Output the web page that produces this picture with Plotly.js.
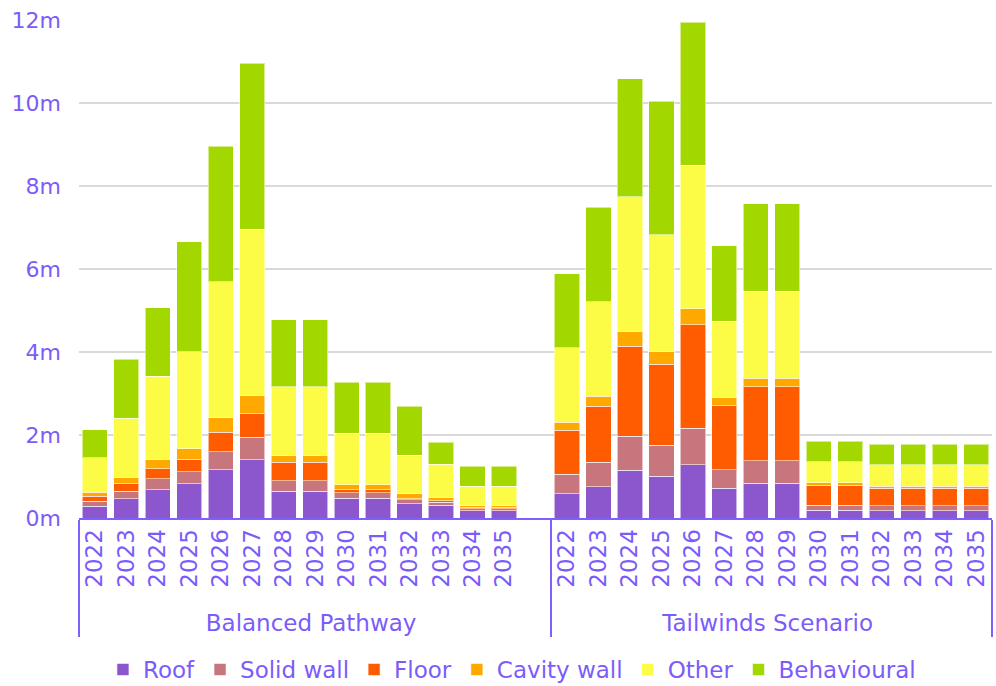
<!DOCTYPE html>
<html>
<head>
<meta charset="utf-8">
<script src="https://cdn.plot.ly/plotly-3.0.1.min.js"></script>
<style>
  html, body { margin: 0; padding: 0; background: #ffffff; }
  #chart { width: 996px; height: 686px; }
</style>
</head>
<body>
<div id="chart"></div>
<script>
// Scenario groups and years shown along the category axis
const scenarios = ['Balanced Pathway', 'Tailwinds Scenario'];
const years = ['2022', '2023', '2024', '2025', '2026', '2027', '2028',
               '2029', '2030', '2031', '2032', '2033', '2034', '2035'];

// Value axis ticks (millions)
const yTicks = [0, 2, 4, 6, 8, 10, 12];
const yTickLabels = ['0m', '2m', '4m', '6m', '8m', '10m', '12m'];

// Values in millions, Balanced Pathway
const roofBalanced     = [0.28, 0.46, 0.68, 0.82, 1.165, 1.40, 0.65, 0.65, 0.48, 0.48, 0.345, 0.305, 0.17, 0.17];
const solidBalanced    = [0.12, 0.18, 0.26, 0.30, 0.435, 0.54, 0.25, 0.25, 0.13, 0.13, 0.095, 0.08, 0.055, 0.055];
const floorBalanced    = [0.13, 0.19, 0.25, 0.30, 0.47, 0.57, 0.44, 0.44, 0.065, 0.065, 0.03, 0.035, 0.035, 0.035];
const cavityBalanced   = [0.09, 0.15, 0.22, 0.25, 0.35, 0.45, 0.17, 0.17, 0.125, 0.125, 0.12, 0.08, 0.04, 0.04];
const otherBalanced    = [0.83, 1.42, 2.00, 2.34, 3.27, 4.00, 1.65, 1.65, 1.24, 1.24, 0.92, 0.79, 0.47, 0.47];
const behaviourBalanced= [0.68, 1.42, 1.66, 2.65, 3.27, 4.00, 1.62, 1.62, 1.23, 1.23, 1.18, 0.53, 0.48, 0.48];

// Values in millions, Tailwinds Scenario
const roofTailwinds     = [0.59, 0.75, 1.15, 1.01, 1.28, 0.72, 0.84, 0.84, 0.19, 0.19, 0.17, 0.17, 0.17, 0.17];
const solidTailwinds    = [0.46, 0.59, 0.82, 0.74, 0.88, 0.445, 0.54, 0.54, 0.12, 0.12, 0.12, 0.12, 0.12, 0.12];
const floorTailwinds    = [1.07, 1.35, 2.17, 1.96, 2.50, 1.545, 1.78, 1.78, 0.475, 0.475, 0.425, 0.425, 0.425, 0.425];
const cavityTailwinds   = [0.185, 0.24, 0.36, 0.31, 0.38, 0.20, 0.21, 0.21, 0.065, 0.065, 0.055, 0.055, 0.055, 0.055];
const otherTailwinds    = [1.795, 2.275, 3.24, 2.81, 3.465, 1.83, 2.09, 2.09, 0.505, 0.505, 0.51, 0.51, 0.51, 0.51];
const behaviourTailwinds= [1.78, 2.28, 2.85, 3.21, 3.445, 1.82, 2.11, 2.11, 0.50, 0.50, 0.50, 0.50, 0.50, 0.50];

const measures = ['Roof', 'Solid wall', 'Floor', 'Cavity wall', 'Other', 'Behavioural'];
const colours  = ['#8C57CD', '#C8767E', '#FF5B00', '#FFA800', '#FCFC46', '#A2D800'];

const balancedSeries  = [roofBalanced, solidBalanced, floorBalanced, cavityBalanced, otherBalanced, behaviourBalanced];
const tailwindsSeries = [roofTailwinds, solidTailwinds, floorTailwinds, cavityTailwinds, otherTailwinds, behaviourTailwinds];

// A blank slot closes the first group so the two scenarios sit apart
const blank = '\u00a0';
const outerLabels = [].concat(years.map(() => scenarios[0]), [scenarios[0]], years.map(() => scenarios[1]));
const innerLabels = [].concat(years, [blank], years);

const textColour = '#7B5CFA';
const lineColour = '#7F5FFF';
const font = '"DejaVu Sans", Verdana, sans-serif';

const traces = measures.map((name, i) => ({
  type: 'bar',
  name: name,
  x: [outerLabels, innerLabels],
  y: [].concat(balancedSeries[i], [null], tailwindsSeries[i]),
  marker: { color: colours[i], line: { color: 'rgba(255,255,255,0.55)', width: 1 } },
  hoverinfo: 'skip'
}));

const layout = {
  width: 996,
  height: 686,
  barmode: 'stack',
  bargap: 0.2,
  paper_bgcolor: '#ffffff',
  plot_bgcolor: '#ffffff',
  margin: { l: 79, r: 4, t: 20, b: 168 },
  font: { family: font, color: textColour, size: 23 },
  xaxis: {
    type: 'multicategory',
    tickangle: -90,
    showline: true,
    linecolor: lineColour,
    linewidth: 2,
    ticks: '',
    showdividers: true,
    dividercolor: lineColour,
    dividerwidth: 2,
    tickfont: { family: font, color: textColour, size: 23 }
  },
  yaxis: {
    range: [0, 12],
    tickmode: 'array',
    tickvals: yTicks,
    ticktext: yTickLabels,
    showgrid: true,
    gridcolor: '#D9D9D9',
    gridwidth: 2,
    zeroline: false,
    showline: false,
    ticks: '',
    ticklabelstandoff: 17,
    tickfont: { family: font, color: textColour, size: 22 }
  },
  showlegend: true,
  legend: {
    orientation: 'h',
    xref: 'container',
    yref: 'container',
    x: 0.514,
    xanchor: 'center',
    y: 0.024,
    yanchor: 'middle',
    font: { family: font, color: textColour, size: 23 },
    traceorder: 'normal'
  }
};

Plotly.newPlot('chart', traces, layout, { displayModeBar: false, staticPlot: true });
</script>
</body>
</html>
